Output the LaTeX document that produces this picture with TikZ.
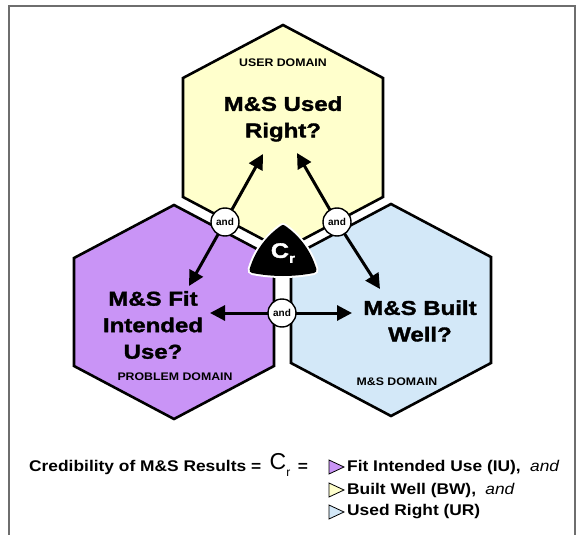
\documentclass[tikz,border=0pt]{standalone}
\usepackage{fontspec}
\setmainfont{Liberation Sans}
\newfontfamily\heavyfont{Liberation Sans}[FakeStretch=1.2,FakeBold=1.6]
\newfontfamily\domfont{Liberation Sans}[FakeStretch=1.12]
\newfontfamily\widefont{Liberation Sans}[FakeStretch=1.12]
\usetikzlibrary{arrows.meta}
\definecolor{userfill}{HTML}{FFFFCC}
\definecolor{problemfill}{HTML}{C994F6}
\definecolor{msfill}{HTML}{D3E8F8}
\definecolor{framegray}{HTML}{6E6E6E}
\def\hexagon[#1](#2)(#3){\draw[#1] (#2) ++(0,{-#3/2-53}) -- ++(100,53) -- ++(0,#3) -- ++(-100,53) -- ++(-100,-53) -- ++(0,-#3) -- cycle;}

\begin{document}
\begin{tikzpicture}[x=1pt, y=-1pt,
    hexline/.style={line width=2.6pt, line join=miter},
    bigtext/.style={font=\heavyfont\bfseries\fontsize{20}{26.5}\selectfont, align=center, inner sep=0},
    domtext/.style={font=\domfont\bfseries\fontsize{11}{12}\selectfont, inner sep=0},
    andnode/.style={circle, draw, fill=white, line width=1.4pt, minimum size=28pt, inner sep=0, font=\bfseries\fontsize{10}{10}\selectfont},
    arr/.style={line width=3pt, -{Triangle[length=15pt,width=15pt]}, shorten <=-1pt},
    legend/.style={font=\widefont\bfseries\fontsize{15.5}{16}\selectfont, inner sep=0},
    marker/.style={line width=0.8pt, line join=miter}]
    %%%%% FRAME %%%%%
    \useasboundingbox (0,0) rectangle (581,535);
    \draw[framegray, line width=2pt] (8.5,535) -- (8.5,6) -- (575,6) -- (575,535);
    
    %%%%% HEXAGONS %%%%%
    \hexagon[hexline, fill=userfill](283,137.5)(119)
    \hexagon[hexline, fill=problemfill](174,312)(108)
    \hexagon[hexline, fill=msfill](391,310)(106)
    
    \node[domtext] (userdom) at (283,63) {USER DOMAIN};
    \node[bigtext] (used) at (283,119) {M\&S Used\\Right?};
    \node[bigtext] (fit) at (153,325) {M\&S Fit\\Intended\\Use?};
    \node[domtext] (probdom) at (175,377) {PROBLEM DOMAIN};
    \node[bigtext] (built) at (420,321) {M\&S Built\\Well?};
    \node[domtext] (msdom) at (397,382) {M\&S DOMAIN};
    
    %%%%% CREDIBILITY %%%%%
    \draw[white, line width=10pt, line join=round] (283,228) .. controls (297.9,238.2) and (308.4,252.8) .. (313.5,270) .. controls (293,274) and (273,274) .. (252.5,270) .. controls (257.6,252.8) and (268.1,238.2) .. (283,228) -- cycle;
    \draw[black, fill=black, line width=6pt, line join=round] (283,228) .. controls (297.9,238.2) and (308.4,252.8) .. (313.5,270) .. controls (293,274) and (273,274) .. (252.5,270) .. controls (257.6,252.8) and (268.1,238.2) .. (283,228) -- cycle;
    \node[white, font=\heavyfont\bfseries\fontsize{21}{21}\selectfont, inner sep=0] (cr) at (283,253) {C\raisebox{-0.45ex}{\fontsize{13}{13}\selectfont r}};
    
    %%%%% ANDS %%%%%
    \node[andnode] (andl) at (225,222) {and};
    \node[andnode] (andr) at (337,222) {and};
    \node[andnode] (andb) at (282,313) {and};
    
    \coordinate (usedl) at (263,154);
    \coordinate (usedr) at (297,153);
    \coordinate (fitup) at (189,286);
    \coordinate (builtup) at (380,289);
    \coordinate (fitin) at (210,313);
    \coordinate (builtin) at (352,313);
    
    \draw[arr] (andl) -- (usedl);
    \draw[arr] (andl) -- (fitup);
    \draw[arr] (andr) -- (usedr);
    \draw[arr] (andr) -- (builtup);
    \draw[arr] (andb) -- (fitin);
    \draw[arr] (andb) -- (builtin);
    
    %%%%% LEGEND %%%%%
    \node[legend, anchor=west] (cred) at (29,467) {Credibility of M\&S Results =};
    \node[font=\fontsize{23}{23}\selectfont, inner sep=0] (crsym) at (280,465) {C\raisebox{-0.5ex}{\fontsize{12}{12}\selectfont r}};
    \node[legend] (eq) at (303,467) {=};
    
    \draw[marker, fill=problemfill] (329,460) -- (344,467) -- (329,474) -- cycle;
    \draw[marker, fill=userfill] (329,483) -- (344,490) -- (329,497) -- cycle;
    \draw[marker, fill=msfill] (329,505) -- (344,512) -- (329,519) -- cycle;
    
    \node[legend, anchor=west] (iu) at (347,467) {Fit Intended Use (IU),\hspace{0.6em}{\mdseries\itshape and}};
    \node[legend, anchor=west] (bw) at (347,490) {Built Well (BW),\hspace{0.6em}{\mdseries\itshape and}};
    \node[legend, anchor=west] (ur) at (347,512) {Used Right (UR)};
\end{tikzpicture}
\end{document}
